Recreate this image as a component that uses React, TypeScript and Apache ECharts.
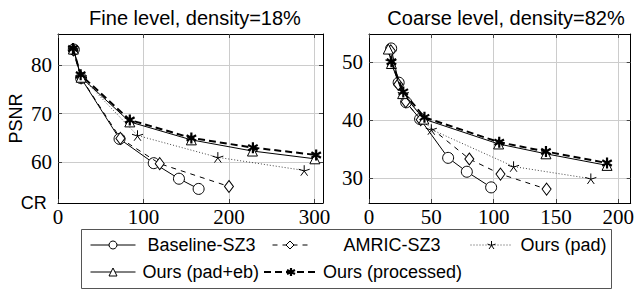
import React, { useEffect, useRef } from 'react';
import * as echarts from 'echarts';

// ---------- Data ----------
const fineTitle = 'Fine level, density=18%';
const coarseTitle = 'Coarse level, density=82%';
const seriesNames = ['Baseline-SZ3', 'AMRIC-SZ3', 'Ours (pad)', 'Ours (pad+eb)', 'Ours (processed)'];

const fineXTicks = [0, 100, 200, 300];
const fineYTicks = [60, 70, 80];
const coarseXTicks = [0, 50, 100, 150, 200];
const coarseYTicks = [30, 40, 50];

// Fine level
const fineBaselineX = [18.5, 27, 72, 112, 141.5, 164.5];
const fineBaselineY = [83.2, 77.3, 64.8, 59.8, 56.6, 54.5];
const fineAmricX = [18, 27, 73, 119, 200];
const fineAmricY = [83.1, 77.4, 64.9, 59.7, 55.0];
const finePadX = [18, 27, 93, 187, 288];
const finePadY = [83.3, 77.6, 65.5, 61.0, 58.3];
const finePadEbX = [18, 27, 84, 156, 227.5, 300.5];
const finePadEbY = [83.3, 77.5, 68.3, 64.6, 62.3, 60.7];
const fineProcX = [17.5, 26.5, 84, 156, 228, 302];
const fineProcY = [83.4, 78.0, 68.7, 65.0, 63.0, 61.5];

// Coarse level
const coarseBaselineX = [17.8, 23.8, 29.8, 41, 63.5, 78.5, 98];
const coarseBaselineY = [52.4, 46.5, 43.1, 40.2, 33.5, 31.1, 28.4];
const coarseAmricX = [17.5, 23.5, 29.5, 41.5, 80.5, 105.5, 142.5];
const coarseAmricY = [52.0, 46.2, 43.2, 40.1, 33.3, 30.7, 28.1];
const coarsePadX = [17.5, 27.5, 50, 116, 178];
const coarsePadY = [50.2, 44.6, 38.4, 32.0, 29.9];
const coarsePadEbX = [15.5, 18, 27, 44, 104, 142, 191];
const coarsePadEbY = [52.3, 49.8, 44.6, 40.2, 35.9, 34.2, 32.2];
const coarseProcX = [18, 27.5, 44.5, 104.5, 142, 191];
const coarseProcY = [50.1, 44.9, 40.5, 36.2, 34.6, 32.6];

// ---------- Styling ----------
const SANS = 'Liberation Sans';
const SERIF = 'Liberation Serif';
const STAR5 = 'path://M0,0L0,-10M0,0L9.51,-3.09M0,0L5.88,8.09M0,0L-5.88,8.09M0,0L-9.51,-3.09';
const AST6 = 'path://M0,-10L0,10M8.66,-5L-8.66,5M8.66,5L-8.66,-5';

const zip = (xs: number[], ys: number[]) => xs.map((x, i) => [x, ys[i]]);

const styles = [
  { symbol: 'circle', symbolSize: 11, line: { color: '#000', width: 1, type: 'solid' }, item: { color: '#fff', borderColor: '#000', borderWidth: 1 } },
  { symbol: 'diamond', symbolSize: [9, 12], line: { color: '#000', width: 1, type: [5, 5] }, item: { color: '#fff', borderColor: '#000', borderWidth: 1 } },
  { symbol: STAR5, symbolSize: 11, line: { color: '#444', width: 1, type: [1, 2] }, item: { color: '#000', borderColor: '#000', borderWidth: 1 } },
  { symbol: 'triangle', symbolSize: 10, line: { color: '#000', width: 1, type: 'solid' }, item: { color: '#fff', borderColor: '#000', borderWidth: 1 } },
  { symbol: AST6, symbolSize: 11, line: { color: '#000', width: 2, type: [7, 4] }, item: { color: '#000', borderColor: '#000', borderWidth: 2.2 } },
];

function mkSeries(idx: number, axis: number, data: number[][]) {
  const s = styles[idx];
  return {
    type: 'line',
    name: seriesNames[idx],
    xAxisIndex: axis,
    yAxisIndex: axis,
    data,
    symbol: s.symbol,
    symbolSize: s.symbolSize,
    symbolKeepAspect: true,
    showAllSymbol: true,
    lineStyle: s.line,
    itemStyle: s.item,
    emphasis: { disabled: true },
    z: 2 + idx,
  };
}

function mkAxis(kind: 'x' | 'y', grid: number, min: number, max: number, ticks: number[], mirror: boolean, extra: any = {}) {
  return {
    type: 'value',
    gridIndex: grid,
    min,
    max,
    position: kind === 'x' ? (mirror ? 'top' : 'bottom') : (mirror ? 'right' : 'left'),
    axisLine: { show: true, onZero: false, lineStyle: { color: '#000', width: 1 } },
    axisTick: { show: true, inside: true, length: 4, customValues: ticks, lineStyle: { color: '#444', width: 1 } },
    axisLabel: {
      show: !mirror,
      customValues: ticks,
      margin: kind === 'x' ? 3 : 6,
      fontFamily: SERIF,
      fontSize: 21,
      color: '#000',
    },
    splitLine: { show: !mirror, lineStyle: { color: '#cccccc', width: 1 } },
    ...extra,
  };
}

const legendBase = {
  itemHeight: 10,
  padding: 0,
  selectedMode: false,
  textStyle: { fontFamily: SANS, fontSize: 18, color: '#000', lineHeight: 20 },
};

function mkLegend(idx: number, left: number, top: number, itemWidth: number, textPad: number) {
  const s = styles[idx];
  return {
    ...legendBase,
    data: [seriesNames[idx]],
    left,
    top,
    itemWidth,
    lineStyle: { width: s.line.width },
    itemStyle: { borderWidth: s.item.borderWidth },
    textStyle: { ...legendBase.textStyle, padding: [0, 0, 0, textPad] },
  };
}

const option: any = {
  animation: false,
  backgroundColor: '#fff',
  textStyle: { fontFamily: SERIF },
  title: [
    { text: fineTitle, left: 190, top: 3, textAlign: 'center', textStyle: { fontFamily: SANS, fontSize: 20, fontWeight: 'normal', color: '#000' } },
    { text: coarseTitle, left: 501, top: 3, textAlign: 'center', textStyle: { fontFamily: SANS, fontSize: 20, fontWeight: 'normal', color: '#000' } },
  ],
  grid: [
    { left: 58, top: 34, width: 265, height: 169 },
    { left: 369, top: 34, width: 264, height: 169 },
  ],
  xAxis: [
    mkAxis('x', 0, 0, 310, fineXTicks, false, {
      name: 'CR',
      nameLocation: 'start',
      nameGap: 11,
      nameTextStyle: { fontFamily: SANS, fontSize: 18, color: '#000', verticalAlign: 'middle', padding: [4, 0, 0, 0] },
    }),
    mkAxis('x', 1, 0, 210, coarseXTicks, false),
    mkAxis('x', 0, 0, 310, fineXTicks, true),
    mkAxis('x', 1, 0, 210, coarseXTicks, true),
  ],
  yAxis: [
    mkAxis('y', 0, 51.6, 86.4, fineYTicks, false, {
      name: 'PSNR',
      nameLocation: 'middle',
      nameRotate: 90,
      nameGap: 33,
      nameTextStyle: { fontFamily: SANS, fontSize: 18, color: '#000' },
    }),
    mkAxis('y', 1, 25.7, 54.9, coarseYTicks, false),
    mkAxis('y', 0, 51.6, 86.4, fineYTicks, true),
    mkAxis('y', 1, 25.7, 54.9, coarseYTicks, true),
  ],
  legend: [
    mkLegend(0, 90, 235, 45, 7),
    mkLegend(1, 272, 235, 35, 31),
    mkLegend(2, 470, 235, 42, 3),
    mkLegend(3, 90, 262, 45, 2),
    mkLegend(4, 263, 262, 54, 0),
  ],
  graphic: [
    {
      type: 'rect',
      shape: { x: 81.5, y: 229.5, width: 530, height: 59 },
      style: { fill: 'none', stroke: '#555', lineWidth: 1 },
      z: 0,
    },
  ],
  series: [
    mkSeries(0, 0, zip(fineBaselineX, fineBaselineY)),
    mkSeries(1, 0, zip(fineAmricX, fineAmricY)),
    mkSeries(2, 0, zip(finePadX, finePadY)),
    mkSeries(3, 0, zip(finePadEbX, finePadEbY)),
    mkSeries(4, 0, zip(fineProcX, fineProcY)),
    mkSeries(0, 1, zip(coarseBaselineX, coarseBaselineY)),
    mkSeries(1, 1, zip(coarseAmricX, coarseAmricY)),
    mkSeries(2, 1, zip(coarsePadX, coarsePadY)),
    mkSeries(3, 1, zip(coarsePadEbX, coarsePadEbY)),
    mkSeries(4, 1, zip(coarseProcX, coarseProcY)),
  ],
};

export default function App() {
  const ref = useRef<HTMLDivElement>(null);
  useEffect(() => {
    document.body.style.margin = '0';
    const chart = echarts.init(ref.current as HTMLDivElement, null, { renderer: 'svg' });
    chart.setOption(option);
    return () => chart.dispose();
  }, []);
  return <div ref={ref} style={{ position: 'absolute', left: 0, top: 0, width: 637, height: 301 }} />;
}
